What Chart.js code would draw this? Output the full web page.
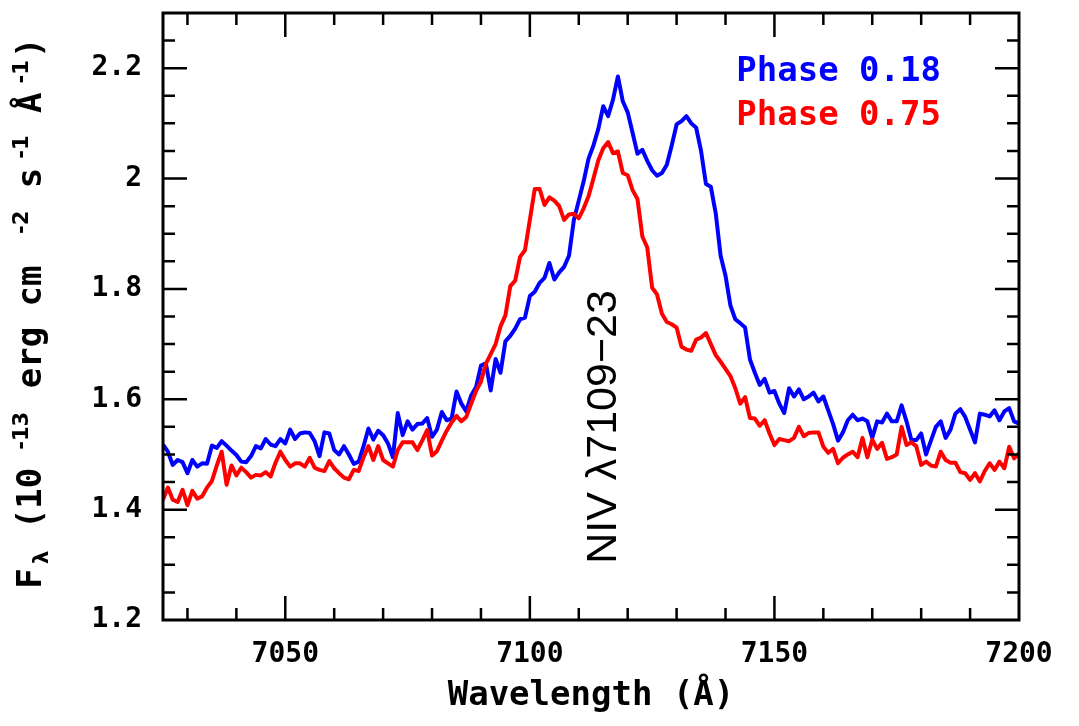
<!DOCTYPE html>
<html>
<head>
<meta charset="utf-8">
<title>NIV 7109-23 profile</title>
<script src="https://cdn.jsdelivr.net/npm/chart.js@4.4.1/dist/chart.umd.min.js"></script>
<style>
  html, body { margin: 0; padding: 0; background: #fff; }
  #wrap { width: 1079px; height: 726px; }
</style>
</head>
<body>
<div id="wrap"><canvas id="spec" width="1079" height="726"></canvas></div>
<script>
"use strict";

// ────────────────────────────────────────────────────────────
// Data (flux in 1e-13 erg cm^-2 s^-1 Å^-1, 1 Å bins from 7025 Å)
// ────────────────────────────────────────────────────────────
const LAMBDA_START = 7025;
const LAMBDA_STEP = 1;

const PHASE_018 = [
  1.518, 1.505, 1.481, 1.490, 1.486, 1.466, 1.490, 1.478, 1.484, 1.483,
  1.516, 1.512, 1.524, 1.516, 1.507, 1.499, 1.487, 1.486, 1.497, 1.515,
  1.511, 1.528, 1.518, 1.515, 1.528, 1.520, 1.545, 1.528, 1.538, 1.540,
  1.539, 1.524, 1.497, 1.540, 1.538, 1.508, 1.500, 1.515, 1.500, 1.483,
  1.487, 1.515, 1.547, 1.527, 1.543, 1.535, 1.520, 1.495, 1.575, 1.535,
  1.560, 1.545, 1.555, 1.556, 1.566, 1.532, 1.545, 1.577, 1.562, 1.565,
  1.614, 1.592, 1.578, 1.607, 1.622, 1.661, 1.665, 1.616, 1.673, 1.648,
  1.705, 1.715, 1.728, 1.745, 1.748, 1.787, 1.795, 1.811, 1.820, 1.847,
  1.817, 1.830, 1.840, 1.860, 1.925, 1.960, 1.995, 2.036, 2.060, 2.090,
  2.131, 2.113, 2.143, 2.185, 2.140, 2.120, 2.083, 2.045, 2.052, 2.032,
  2.015, 2.005, 2.010, 2.025, 2.060, 2.098, 2.104, 2.113, 2.100, 2.092,
  2.050, 1.990, 1.985, 1.937, 1.860, 1.824, 1.770, 1.745, 1.738, 1.730,
  1.672, 1.648, 1.626, 1.637, 1.612, 1.615, 1.592, 1.575, 1.620, 1.605,
  1.618, 1.600, 1.605, 1.612, 1.596, 1.605, 1.580, 1.555, 1.525, 1.540,
  1.562, 1.572, 1.562, 1.565, 1.560, 1.530, 1.560, 1.558, 1.574, 1.560,
  1.560, 1.589, 1.560, 1.526, 1.526, 1.538, 1.500, 1.525, 1.550, 1.560,
  1.530, 1.545, 1.574, 1.582, 1.568, 1.545, 1.522, 1.574, 1.572, 1.569,
  1.580, 1.562, 1.578, 1.584, 1.560, 1.556
];

const PHASE_075 = [
  1.418, 1.440, 1.418, 1.414, 1.436, 1.408, 1.434, 1.420, 1.424, 1.440,
  1.452, 1.480, 1.505, 1.445, 1.480, 1.462, 1.476, 1.468, 1.458, 1.463,
  1.462, 1.468, 1.460, 1.485, 1.505, 1.490, 1.478, 1.484, 1.484, 1.478,
  1.494, 1.476, 1.472, 1.470, 1.488, 1.475, 1.466, 1.458, 1.455, 1.472,
  1.470, 1.495, 1.515, 1.490, 1.515, 1.490, 1.484, 1.478, 1.508, 1.522,
  1.522, 1.522, 1.508, 1.525, 1.544, 1.498, 1.506, 1.525, 1.543, 1.558,
  1.570, 1.560, 1.568, 1.592, 1.615, 1.632, 1.664, 1.682, 1.700, 1.732,
  1.752, 1.805, 1.815, 1.858, 1.870, 1.925, 1.981, 1.981, 1.952, 1.966,
  1.960, 1.950, 1.925, 1.935, 1.936, 1.928, 1.946, 1.968, 2.000, 2.033,
  2.055, 2.066, 2.046, 2.049, 2.010, 2.006, 1.979, 1.963, 1.895, 1.875,
  1.802, 1.790, 1.755, 1.740, 1.736, 1.730, 1.695, 1.690, 1.688, 1.708,
  1.712, 1.720, 1.700, 1.680, 1.668, 1.655, 1.642, 1.620, 1.592, 1.604,
  1.566, 1.565, 1.552, 1.562, 1.538, 1.517, 1.528, 1.526, 1.524, 1.530,
  1.550, 1.533, 1.539, 1.540, 1.540, 1.514, 1.503, 1.510, 1.484, 1.494,
  1.500, 1.505, 1.495, 1.530, 1.495, 1.527, 1.510, 1.521, 1.492, 1.495,
  1.500, 1.550, 1.517, 1.522, 1.515, 1.481, 1.487, 1.480, 1.478, 1.505,
  1.490, 1.485, 1.485, 1.468, 1.466, 1.454, 1.466, 1.451, 1.470, 1.484,
  1.472, 1.487, 1.475, 1.514, 1.493, 1.502
];

const SERIES_LABELS = ["Phase 0.18", "Phase 0.75"];
const X_TICKS = [7050, 7100, 7150, 7200];
const Y_TICKS = [1.2, 1.4, 1.6, 1.8, 2, 2.2];
const LINE_LABEL = "NIV λ7109−23";

// ────────────────────────────────────────────────────────────
// Style
// ────────────────────────────────────────────────────────────
const BLUE = "#0000ff";
const RED = "#ff0000";
const MONO = '"DejaVu Sans Mono", "Liberation Mono", monospace';
const SANS = '"DejaVu Sans", "Liberation Sans", sans-serif';
const MAJOR_LEN = 24;
const MINOR_LEN = 12;

function toPoints(values) {
  return values.map(function (v, i) {
    return { x: LAMBDA_START + i * LAMBDA_STEP, y: v };
  });
}

// text with sub/superscripts, drawn along the current x axis
function pieceFont(p, size) {
  return p.small
    ? "bold " + Math.round(size * 0.62) + "px " + SANS
    : "bold " + size + "px " + MONO;
}

function drawPieces(ctx, pieces, baseSize, spacing) {
  let total = 0;
  pieces.forEach(function (p) {
    ctx.font = pieceFont(p, baseSize);
    p.w = ctx.measureText(p.t).width + (p.small ? 1 : spacing) * p.t.length;
    total += p.w;
  });
  let cx = -total / 2;
  pieces.forEach(function (p) {
    ctx.font = pieceFont(p, baseSize);
    ctx.fillText(p.t, cx, p.dy || 0);
    cx += p.w;
  });
}

// ────────────────────────────────────────────────────────────
// Frame, inward ticks on four sides, and annotations
// ────────────────────────────────────────────────────────────
const frameAndText = {
  id: "frameAndText",
  afterDatasetsDraw: function (chart) {
    const ctx = chart.ctx;
    const a = chart.chartArea;
    const xs = chart.scales.x;
    const ys = chart.scales.y;
    ctx.save();
    ctx.strokeStyle = "#000";
    ctx.lineCap = "butt";

    ctx.lineWidth = 2.5;
    ctx.beginPath();
    for (let w = 7030; w < 7200; w += 10) {
      const px = xs.getPixelForValue(w);
      const len = w % 50 === 0 ? MAJOR_LEN : MINOR_LEN;
      ctx.moveTo(px, a.bottom); ctx.lineTo(px, a.bottom - len);
      ctx.moveTo(px, a.top); ctx.lineTo(px, a.top + len);
    }
    for (let i = 25; i < 46; i++) {
      const py = ys.getPixelForValue(i * 0.05);
      const len = i % 4 === 0 ? MAJOR_LEN : MINOR_LEN;
      ctx.moveTo(a.left, py); ctx.lineTo(a.left + len, py);
      ctx.moveTo(a.right, py); ctx.lineTo(a.right - len, py);
    }
    ctx.stroke();

    ctx.lineWidth = 3;
    ctx.strokeRect(a.left, a.top, a.right - a.left, a.bottom - a.top);

    // legend
    ctx.font = "bold 34px " + MONO;
    ctx.textAlign = "right";
    ctx.textBaseline = "alphabetic";
    ctx.fillStyle = BLUE;
    ctx.fillText(SERIES_LABELS[0], 941, 81);
    ctx.fillStyle = RED;
    ctx.fillText(SERIES_LABELS[1], 941, 125);

    // line identification, vertical
    ctx.save();
    ctx.fillStyle = "#000";
    ctx.translate(604, 427);
    ctx.rotate(-Math.PI / 2);
    ctx.textAlign = "center";
    ctx.textBaseline = "middle";
    ctx.font = '43px "Liberation Sans", Arial, sans-serif';
    ctx.fillText(LINE_LABEL, 0, 0);
    ctx.restore();

    // x title
    ctx.fillStyle = "#000";
    ctx.textAlign = "center";
    ctx.textBaseline = "middle";
    ctx.font = "bold 34px " + MONO;
    ctx.fillText("Wavelength (Å)", (a.left + a.right) / 2, 696);

    // y title
    ctx.save();
    ctx.translate(41, 311);
    ctx.rotate(-Math.PI / 2);
    ctx.textAlign = "left";
    ctx.textBaseline = "alphabetic";
    drawPieces(ctx, [
      { t: "F" },
      { t: "λ", small: true, dy: 7 },
      { t: " (10" },
      { t: "-13", small: true, dy: -13 },
      { t: " erg cm" },
      { t: "-2", small: true, dy: -13 },
      { t: " s" },
      { t: "-1", small: true, dy: -13 },
      { t: " Å" },
      { t: "-1", small: true, dy: -13 },
      { t: ")" }
    ], 34, 4.5);
    ctx.restore();

    ctx.restore();
  }
};

// ────────────────────────────────────────────────────────────
// Chart
// ────────────────────────────────────────────────────────────
new Chart(document.getElementById("spec"), {
  type: "line",
  data: {
    datasets: [
      {
        label: SERIES_LABELS[0],
        data: toPoints(PHASE_018),
        borderColor: BLUE,
        borderWidth: 4,
        borderJoinStyle: "round",
        pointRadius: 0,
        tension: 0,
        order: 2
      },
      {
        label: SERIES_LABELS[1],
        data: toPoints(PHASE_075),
        borderColor: RED,
        borderWidth: 4,
        borderJoinStyle: "round",
        pointRadius: 0,
        tension: 0,
        order: 1
      }
    ]
  },
  options: {
    responsive: false,
    animation: false,
    devicePixelRatio: 1,
    layout: { padding: { top: 13, right: 60, left: 0, bottom: 0 } },
    plugins: {
      legend: { display: false },
      tooltip: { enabled: false }
    },
    scales: {
      x: {
        type: "linear",
        min: 7025,
        max: 7200,
        grid: { display: false, drawTicks: false },
        border: { display: false },
        afterBuildTicks: function (s) {
          s.ticks = X_TICKS.map(function (v) { return { value: v }; });
        },
        afterFit: function (s) {
          s.height = 106;
          s.paddingLeft = 0;
          s.paddingRight = 0;
        },
        ticks: {
          color: "#000",
          padding: 18,
          maxRotation: 0,
          font: { family: MONO, size: 28, weight: "bold" },
          callback: function (v) { return String(v); }
        }
      },
      y: {
        type: "linear",
        min: 1.2,
        max: 2.3,
        grid: { display: false, drawTicks: false },
        border: { display: false },
        afterBuildTicks: function (s) {
          s.ticks = Y_TICKS.map(function (v) { return { value: v }; });
        },
        afterFit: function (s) {
          s.width = 163;
          s.paddingTop = 0;
          s.paddingBottom = 0;
        },
        ticks: {
          color: "#000",
          padding: 21,
          font: { family: MONO, size: 28, weight: "bold" },
          callback: function (v) { return String(+v.toFixed(1)); }
        }
      }
    }
  },
  plugins: [frameAndText]
});
</script>
</body>
</html>
